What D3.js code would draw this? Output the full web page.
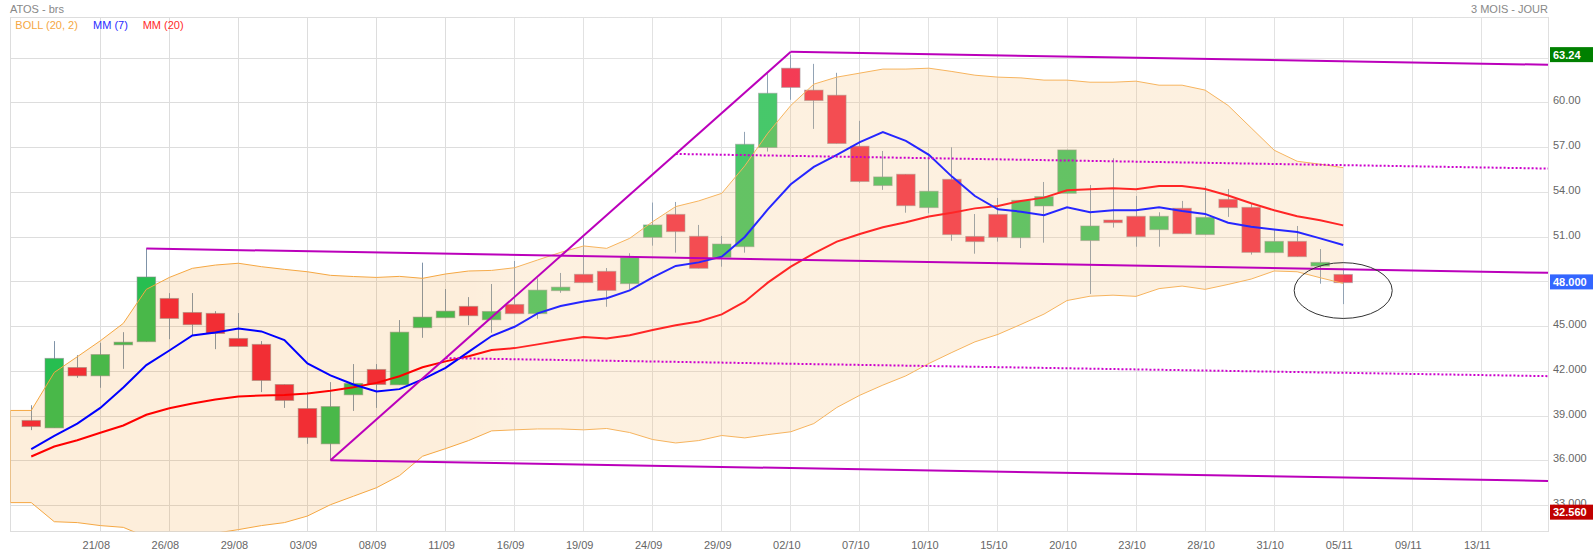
<!DOCTYPE html>
<html>
<head>
<meta charset="utf-8">
<script src="https://cdn.jsdelivr.net/npm/d3@7"></script>
<style>
    html, body { margin: 0; padding: 0; background: #fff; }
    text { font-family: "Liberation Sans", Arial, sans-serif; font-size: 11px; }
</style>
</head>
<body>
<svg id="chart" width="1593" height="555"></svg>
<script>
// candles, one entry per session
var open  = [38.71,38.21,42.26,41.70,43.78,43.99,46.89,45.95,45.89,44.21,43.81,41.12,39.51,37.14,40.43,42.13,41.10,44.93,45.60,46.36,45.46,46.49,45.87,47.41,48.51,48.71,47.88,50.99,52.53,51.06,49.65,50.36,57.01,62.33,60.86,60.52,57.10,54.46,55.22,52.98,54.88,51.05,52.53,50.96,53.09,53.94,50.77,52.15,52.40,51.50,52.94,51.17,53.54,53.00,49.96,50.72,49.06,48.50];
var high  = [39.73,44.03,43.09,43.92,44.63,50.24,47.25,47.25,46.04,45.91,44.03,41.12,40.63,41.28,42.49,42.49,45.44,49.29,47.52,46.98,47.86,49.40,48.24,48.60,51.03,48.93,49.92,53.32,53.36,51.82,51.08,58.06,61.99,63.24,62.62,62.02,58.80,56.78,55.22,56.63,57.03,52.55,53.63,53.47,54.70,56.85,54.50,56.29,53.76,52.67,53.43,54.43,54.23,53.23,51.50,51.75,50.20,48.90];
var low   = [38.06,38.21,41.57,40.90,42.17,43.99,44.16,44.40,43.49,43.67,40.61,39.55,37.14,36.04,39.35,39.55,41.10,44.25,45.60,45.10,44.59,45.87,45.53,47.27,47.95,46.33,47.50,50.43,49.96,48.91,49.02,49.96,56.74,60.21,58.26,57.28,54.66,54.17,52.64,52.60,50.76,49.89,50.70,50.27,50.63,53.94,47.19,51.64,50.36,50.36,51.23,51.17,52.36,49.83,49.96,49.69,47.88,46.51];
var close = [38.30,42.87,41.70,43.13,43.96,48.33,45.55,45.13,44.54,43.67,41.39,40.05,37.56,39.64,41.19,41.12,44.63,45.64,46.04,45.73,46.02,45.87,47.45,47.65,47.95,47.43,49.62,51.82,51.37,48.91,50.54,57.23,60.65,61.04,60.16,57.28,54.73,55.04,53.11,54.08,51.17,50.70,50.99,53.47,53.72,56.85,51.75,51.97,51.03,52.40,51.23,52.33,52.98,49.98,50.72,49.69,49.31,47.95];

// indicators
var mm7  = [36.78,37.67,38.50,39.55,40.92,42.42,43.40,44.41,44.61,44.88,44.68,44.10,42.53,41.73,41.12,40.65,40.81,41.46,42.24,43.31,44.37,44.99,45.89,46.38,46.69,46.90,47.43,48.30,49.07,49.31,49.69,51.01,52.86,54.55,55.71,56.52,57.37,58.04,57.46,56.52,55.06,53.76,52.87,52.71,52.47,53.00,52.67,52.80,52.80,53.00,52.76,52.56,51.97,51.70,51.52,51.35,50.92,50.47];
var mm20 = [36.29,36.96,37.38,37.88,38.37,39.09,39.53,39.85,40.11,40.32,40.38,40.41,40.52,40.70,40.94,41.23,41.67,42.28,42.67,43.02,43.43,43.56,43.81,44.07,44.30,44.21,44.43,44.77,45.10,45.35,45.82,46.67,47.95,49.02,49.91,50.70,51.21,51.66,52.00,52.38,52.64,52.93,53.09,53.43,53.65,54.14,54.21,54.28,54.21,54.43,54.43,54.23,53.79,53.27,52.80,52.40,52.13,51.79];
var bollUp = [39.38,41.93,42.98,44.05,45.22,47.50,48.30,48.91,49.13,49.25,49.02,48.84,48.68,48.44,48.36,48.30,48.37,48.24,48.53,48.73,48.77,48.95,49.47,49.98,50.41,50.25,50.92,52.04,53.05,53.43,53.94,55.78,57.97,59.83,61.26,61.73,62.00,62.27,62.27,62.33,62.11,61.86,61.73,61.68,61.53,61.53,61.39,61.39,61.46,61.19,61.19,60.86,59.83,58.33,56.83,56.09,55.89,55.66];
var bollLo = [33.20,31.92,31.86,31.66,31.54,30.90,30.56,30.67,31.15,31.39,31.66,31.86,32.30,33.06,33.63,34.20,35.01,36.31,36.82,37.36,38.01,38.08,38.14,38.14,38.08,38.17,37.90,37.43,37.20,37.36,37.70,37.54,37.76,37.95,38.50,39.58,40.40,41.08,41.70,42.53,43.27,43.98,44.48,45.15,45.84,46.75,47.04,47.11,47.03,47.55,47.72,47.50,47.83,48.19,48.73,48.68,48.28,47.90];

// hand drawn trend lines: [index, price] pairs
var lastIdx = 65.9;
var trendSolid = [
    [[13, 36.04], [33, 63.43]],
    [[33, 63.43], [lastIdx, 62.56]],
    [[5, 50.24], [lastIdx, 48.61]],
    [[13, 36.04], [lastIdx, 34.65]]
];
var trendDotted = [
    [[28, 56.58], [lastIdx, 55.60]],
    [[18, 42.89], [lastIdx, 41.68]]
];

var yTicks = [60, 57, 54, 51, 45, 42, 39, 36, 33];
var yTickLabels = ["60.00", "57.00", "54.00", "51.00", "45.000", "42.000", "39.000", "36.000", "33.000"];
var yGrid = [63, 60, 57, 54, 51, 48, 45, 42, 39, 36, 33];
var xTicks = [3, 6, 9, 12, 15, 18, 21, 24, 27, 30, 33, 36, 39, 42, 45, 48, 51, 54, 57, 60, 63];
var xTickLabels = ["21/08", "26/08", "29/08", "03/09", "08/09", "11/09", "16/09", "19/09", "24/09", "29/09", "02/10", "07/10", "10/10", "15/10", "20/10", "23/10", "28/10", "31/10", "05/11", "09/11", "13/11"];
var priceFlags = [
    { value: 63.24, label: "63.24", color: "#008000" },
    { value: 48, label: "48.000", color: "#3366ff" },
    { value: 32.56, label: "32.560", color: "#c00000" }
];

var left = 10.5, right = 1548.5, top_ = 17.5, bottom = 531.5;

var svg = d3.select("#chart");
var x = d3.scaleLinear().domain([0, 63]).range([31.25, 1481.3]);
var y = d3.scaleLinear().domain([33, 63]).range([505.6, 58.2]);
var bodyW = 18.5;

var defs = svg.append("defs");
defs.append("clipPath").attr("id", "plot")
    .append("rect").attr("x", left).attr("y", top_).attr("width", right - left).attr("height", bottom - top_);
var wash = defs.append("linearGradient").attr("id", "wash").attr("gradientUnits", "userSpaceOnUse")
    .attr("x1", 465).attr("x2", 520).attr("y1", 0).attr("y2", 0);
wash.append("stop").attr("offset", 0).attr("stop-color", "#fff").attr("stop-opacity", 0);
wash.append("stop").attr("offset", 1).attr("stop-color", "#fff").attr("stop-opacity", 0.15);

// grid
var grid = svg.append("g").attr("stroke", "#ddd").attr("stroke-width", 1);
grid.selectAll(".h").data(yGrid).enter().append("line")
    .attr("x1", left).attr("x2", right)
    .attr("y1", d => Math.floor(y(d)) + 0.5).attr("y2", d => Math.floor(y(d)) + 0.5);
grid.selectAll(".v").data(xTicks).enter().append("line")
    .attr("y1", top_).attr("y2", bottom)
    .attr("x1", d => Math.floor(x(d)) + 0.5).attr("x2", d => Math.floor(x(d)) + 0.5);
svg.append("rect").attr("x", left).attr("y", top_).attr("width", right - left).attr("height", bottom - top_)
    .attr("fill", "none").attr("stroke", "#ddd");

var plot = svg.append("g").attr("clip-path", "url(#plot)");

// candles
var idx = d3.range(open.length);
plot.selectAll(".wick").data(idx).enter().append("line")
    .attr("x1", i => Math.floor(x(i)) + 0.5).attr("x2", i => Math.floor(x(i)) + 0.5)
    .attr("y1", i => y(high[i])).attr("y2", i => y(low[i]))
    .attr("stroke", "#7f93a8").attr("stroke-width", 1);
plot.selectAll(".body").data(idx).enter().append("rect")
    .attr("x", i => x(i) - bodyW / 2)
    .attr("width", bodyW)
    .attr("y", i => y(Math.max(open[i], close[i])))
    .attr("height", i => Math.abs(y(open[i]) - y(close[i])))
    .attr("fill", i => close[i] >= open[i] ? "#27be50" : "#f21937")
    .attr("stroke", "#8a8a8a").attr("stroke-opacity", 0.55).attr("stroke-width", 1);

// bollinger band, flat out to the left frame
var leftIdx = x.invert(left);
var bandPts = [[leftIdx, bollUp[0]]].concat(idx.map(i => [i, bollUp[i]]));
var bandLoPts = [[leftIdx, bollLo[0]]].concat(idx.map(i => [i, bollLo[i]]));
var area = d3.area().x(d => x(d[0])).y0(d => y(d[2])).y1(d => y(d[1]));
var areaPts = bandPts.map((d, i) => [d[0], d[1], bandLoPts[i][1]]);
plot.append("path").attr("d", area(areaPts))
    .attr("fill", "rgb(243,155,43)").attr("fill-opacity", 0.17);
var line = d3.line().x(d => x(d[0])).y(d => y(d[1]));
plot.append("path")
    .attr("d", line(bandPts.slice().reverse().concat(bandLoPts)))
    .attr("fill", "none").attr("stroke", "#f5a742").attr("stroke-width", 1);

// moving averages
plot.append("path").attr("d", line(idx.map(i => [i, mm20[i]])))
    .attr("fill", "none").attr("stroke", "#ff0000").attr("stroke-width", 2);
plot.append("path").attr("d", line(idx.map(i => [i, mm7[i]])))
    .attr("fill", "none").attr("stroke", "#0000ff").attr("stroke-width", 2);

// right part of the reference is slightly washed out
svg.append("rect").attr("x", 465).attr("y", top_).attr("width", right - 465).attr("height", bottom - top_)
    .attr("fill", "url(#wash)");

// trend lines and the circled last session
var trends = svg.append("g").attr("clip-path", "url(#plot)").attr("fill", "none");
trendSolid.forEach(t => {
    trends.append("path").attr("d", line(t)).attr("stroke", "#bb00bb").attr("stroke-width", 2);
});
trendDotted.forEach(t => {
    trends.append("path").attr("d", line(t)).attr("stroke", "#cc00cc").attr("stroke-width", 2).attr("stroke-dasharray", "2 2");
});
trends.append("ellipse")
    .attr("cx", x(57)).attr("cy", y(47.42))
    .attr("rx", x(2.13) - x(0)).attr("ry", y(45.55) - y(47.42))
    .attr("stroke", "#333").attr("stroke-width", 1);

// axes
var yAxis = d3.axisRight(y).tickValues(yTicks).tickFormat((d, i) => yTickLabels[i]).tickSize(0).tickPadding(0);
var gy = svg.append("g").attr("transform", "translate(1553,0)").call(yAxis);
gy.select(".domain").remove();
gy.selectAll("text").attr("dy", "1px").attr("fill", "#666").style("font-size", "11px").style("font-family", '"Liberation Sans", Arial, sans-serif');

var xAxis = d3.axisBottom(x).tickValues(xTicks).tickFormat((d, i) => xTickLabels[i]).tickSize(0).tickPadding(0);
var gx = svg.append("g").attr("transform", "translate(-4.5,549)").call(xAxis);
gx.select(".domain").remove();
gx.selectAll("text").attr("dy", 0).attr("y", 0).attr("fill", "#666").style("font-size", "11px").style("font-family", '"Liberation Sans", Arial, sans-serif');

// price flags
priceFlags.forEach(f => {
    svg.append("rect").attr("x", 1550).attr("width", 43).attr("y", y(f.value) - 7.5).attr("height", 15).attr("fill", f.color);
    svg.append("text").attr("x", 1553).attr("y", y(f.value) + 4).attr("fill", "#fff").attr("font-weight", "bold").attr("stroke", "none").text(f.label);
});

// titles
svg.append("text").attr("x", 10).attr("y", 13).attr("fill", "#888").text("ATOS - brs");
svg.append("text").attr("x", 1548).attr("y", 13).attr("fill", "#888").attr("text-anchor", "end").text("3 MOIS - JOUR");
svg.append("text").attr("x", 15.3).attr("y", 29).attr("fill", "#f5a742").text("BOLL (20, 2)");
svg.append("text").attr("x", 93).attr("y", 29).attr("fill", "#2a2aff").text("MM (7)");
svg.append("text").attr("x", 142.7).attr("y", 29).attr("fill", "#ff2a2a").text("MM (20)");
</script>
</body>
</html>
